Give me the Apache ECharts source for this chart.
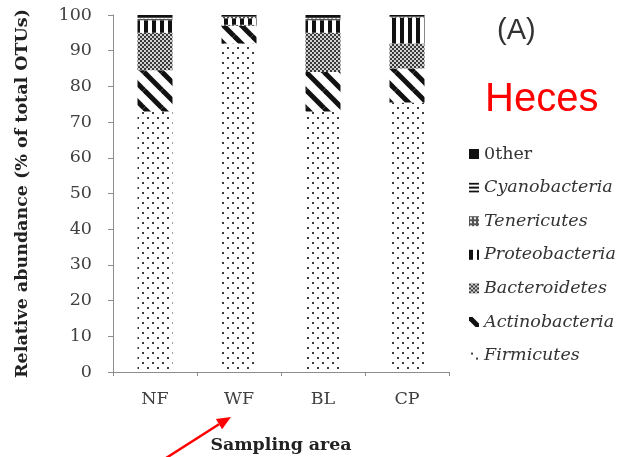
<!DOCTYPE html>
<html><head><meta charset="utf-8">
<script src="https://cdn.jsdelivr.net/npm/echarts@6/dist/echarts.min.js"></script>
<style>html,body{margin:0;padding:0;background:#fff}#c{width:621px;height:457px}</style>
</head><body><div id="c"></div>
<script>
const categories = ['NF', 'WF', 'BL', 'CP'];
const firmicutes     = [73,   92,  73,   75.5];
const actinobacteria = [11.5, 5,   11,   9.5];
const bacteroidetes  = [10.5, 0.3, 11,   7];
const proteobacteria = [3.5,  1.8, 3.5,  7.3];
const tenericutes    = [0.5,  0.4, 0.6,  0.2];
const cyanobacteria  = [0.3,  0.1, 0.3,  0.1];
const other          = [0.7,  0.4, 0.6,  0.4];
const seriesNames = ['Firmicutes','Actinobacteria','Bacteroidetes','Proteobacteria','Tenericutes','Cyanobacteria','0ther'];
const seriesData = [firmicutes, actinobacteria, bacteroidetes, proteobacteria, tenericutes, cyanobacteria, other];
const yTicks = [0,10,20,30,40,50,60,70,80,90,100];

function tile(w, h, draw) {
  const c = document.createElement('canvas');
  c.width = w; c.height = h;
  const g = c.getContext('2d');
  g.fillStyle = '#fff'; g.fillRect(0,0,w,h);
  draw(g, w, h);
  return {image: c, repeat: 'repeat'};
}
const patterns = [
  tile(10, 10, g => { g.fillStyle = '#3a3a3a'; g.fillRect(2,2,2,2); g.fillRect(7,7,2,2); }),
  tile(18, 18, g => {
    g.strokeStyle = '#111'; g.lineWidth = 5;
    [[-18,-18],[0,0],[18,18],[-18,0],[0,-18],[18,0],[0,18]].forEach(([dx,dy]) => {
      g.beginPath(); g.moveTo(dx, dy); g.lineTo(dx+18, dy+18); g.stroke();
    });
  }),
  tile(4, 4, g => { g.fillStyle = '#d2d2d2'; g.fillRect(0,0,4,4); g.fillStyle = '#3a3a3a'; g.fillRect(0,0,2,2); g.fillRect(2,2,2,2); }),
  tile(8, 8, g => { g.fillStyle = '#111'; g.fillRect(0,0,4,8); }),
  tile(4, 4, g => { g.fillStyle = '#555'; g.fillRect(0,0,4,4); g.fillStyle = '#eee'; g.fillRect(1,1,2,2); }),
  tile(4, 4, g => { g.fillStyle = '#111'; g.fillRect(0,0,4,2); }),
  tile(4, 4, g => { g.fillStyle = '#111'; g.fillRect(0,0,4,4); })
];

const chart = echarts.init(document.getElementById('c'), null, {renderer: 'canvas'});
const serif = 'DejaVu Serif';
chart.setOption({
  animation: false,
  grid: {left: 113, top: 15, right: 172, bottom: 85, outerBoundsMode: 'none', containLabel: false},
  xAxis: {
    type: 'category', data: categories,
    name: 'Sampling area', nameLocation: 'middle', nameGap: 65,
    nameTextStyle: {fontFamily: serif, fontWeight: 'bold', fontSize: 17.4, color: '#222'},
    axisLine: {lineStyle: {color: '#8c8c8c', width: 1}},
    axisTick: {show: true, length: 4, lineStyle: {color: '#8c8c8c'}},
    axisLabel: {fontFamily: serif, fontSize: 17.5, color: '#404040', margin: 18}
  },
  yAxis: {
    type: 'value', min: 0, max: 100, interval: 10,
    name: 'Relative abundance (% of total OTUs)', nameLocation: 'middle', nameGap: 82,
    nameTextStyle: {fontFamily: serif, fontWeight: 'bold', fontSize: 17.5, color: '#222'},
    axisLine: {show: true, lineStyle: {color: '#8c8c8c', width: 1}},
    axisTick: {show: true, length: 5, lineStyle: {color: '#8c8c8c'}},
    splitLine: {show: false},
    axisLabel: {fontFamily: serif, fontSize: 17.5, color: '#404040', margin: 21,
      formatter: v => yTicks.includes(v) ? String(v) : ''}
  },
  legend: {
    orient: 'vertical', left: 464, top: 140,
    itemWidth: 10, itemHeight: 10, itemGap: 15.6,
    data: seriesNames.slice().reverse(),
    icon: 'rect',
    formatter: n => n === '0ther' ? '{n|' + n + '}' : '{i|' + n + '}',
    textStyle: {
      rich: {
        n: {fontFamily: serif, fontSize: 17.5, color: '#333', lineHeight: 20},
        i: {fontFamily: serif, fontStyle: 'italic', fontSize: 17.5, color: '#333', lineHeight: 20}
      }
    }
  },
  series: seriesNames.map((name, i) => ({
    name, type: 'bar', stack: 'all', barWidth: 35,
    data: seriesData[i],
    itemStyle: {color: patterns[i]},
    emphasis: {disabled: true}
  })),
  graphic: [
    {type: 'text', left: 497, top: 16, style: {text: '(A)', font: '29px "Liberation Sans"', fill: '#333'}},
    {type: 'text', left: 485, top: 80, style: {text: 'Heces', font: '40px "Liberation Sans"', fill: '#ff0000'}},
    {type: 'line', shape: {x1: 163, y1: 460, x2: 219, y2: 424.2}, style: {stroke: '#ff0000', lineWidth: 2.5}},
    {type: 'polygon', shape: {points: [[231, 417], [222.1, 429.3], [215.9, 419.1]]}, style: {fill: '#ff0000'}}
  ]
});
</script></body></html>
